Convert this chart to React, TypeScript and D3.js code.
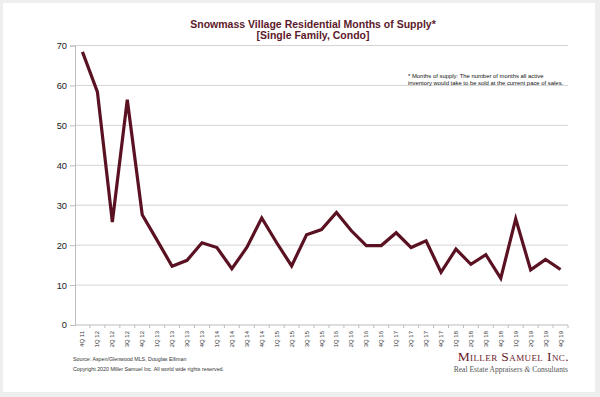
import React, { useRef, useEffect } from 'react';
import * as d3 from 'd3';

const quarters = [
  '4Q 11', '1Q 12', '2Q 12', '3Q 12', '4Q 12', '1Q 13', '2Q 13', '3Q 13', '4Q 13',
  '1Q 14', '2Q 14', '3Q 14', '4Q 14', '1Q 15', '2Q 15', '3Q 15', '4Q 15',
  '1Q 16', '2Q 16', '3Q 16', '4Q 16', '1Q 17', '2Q 17', '3Q 17', '4Q 17',
  '1Q 18', '2Q 18', '3Q 18', '4Q 18', '1Q 19', '2Q 19', '3Q 19', '4Q 19',
];

const monthsOfSupply = [
  68.4, 58.4, 25.8, 56.4, 27.6, 21.2, 14.7, 16.2, 20.6,
  19.4, 14.1, 19.4, 26.8, 20.6, 14.8, 22.6, 23.9,
  28.2, 23.6, 19.9, 19.9, 23.1, 19.4, 21.1, 13.2,
  19.0, 15.2, 17.6, 11.7, 26.6, 13.8, 16.4, 13.9,
];

const yTicks = [0, 10, 20, 30, 40, 50, 60, 70];

const titleLines = ['Snowmass Village Residential Months of Supply*', '[Single Family, Condo]'];
const noteLines = [
  '* Months of supply: The number of months all active',
  'inventory would take to be sold at the current pace of sales.',
];
const footerLines = [
  'Source: Aspen/Glenwood MLS, Douglas Elliman',
  'Copyright 2020 Miller Samuel Inc.  All world wide rights reserved.',
];

const width = 600;
const height = 397;
const plot = { left: 75, right: 568, top: 45.5, bottom: 325 };
const maroon = '#5a1222';
const font = 'Liberation Sans, Arial, sans-serif';

const App = () => {
  const svgRef = useRef<SVGSVGElement>(null);

  useEffect(() => {
    document.body.style.margin = '0';
    const svg = d3.select(svgRef.current);
    svg.selectAll('*').remove();

    // frame
    svg.append('rect').attr('width', width).attr('height', height).attr('fill', '#eeeeee');
    svg.append('rect')
      .attr('x', 3).attr('y', 3)
      .attr('width', 592).attr('height', 389)
      .attr('fill', '#ffffff');

    const x = d3.scaleBand<string>()
      .domain(quarters)
      .range([plot.left, plot.right])
      .padding(0);

    const y = d3.scaleLinear()
      .domain([0, 70])
      .range([plot.bottom, plot.top]);

    // gridlines
    svg.append('g')
      .selectAll('line')
      .data(yTicks.filter(d => d > 0))
      .enter()
      .append('line')
      .attr('x1', plot.left)
      .attr('x2', plot.right)
      .attr('y1', d => y(d))
      .attr('y2', d => y(d))
      .attr('stroke', '#d4d4d4')
      .attr('stroke-width', 1);

    // y axis
    const yAxis = svg.append('g')
      .attr('transform', `translate(${plot.left},0)`)
      .call(d3.axisLeft(y).tickValues(yTicks).tickSize(5).tickPadding(3));
    yAxis.select('.domain').attr('stroke', '#bdbdbd');
    yAxis.selectAll('.tick line').attr('stroke', '#bdbdbd');
    yAxis.selectAll('.tick text')
      .attr('font-family', font)
      .attr('font-size', 9.3)
      .attr('fill', '#222');

    // x axis
    const xAxis = svg.append('g').attr('transform', `translate(0,${plot.bottom})`);
    xAxis.append('line')
      .attr('x1', plot.left).attr('x2', plot.right)
      .attr('stroke', '#bdbdbd');
    xAxis.selectAll('line.tick')
      .data(quarters)
      .enter()
      .append('line')
      .attr('class', 'tick')
      .attr('x1', d => (x(d) as number) + x.bandwidth())
      .attr('x2', d => (x(d) as number) + x.bandwidth())
      .attr('y1', 0)
      .attr('y2', 3)
      .attr('stroke', '#bdbdbd');
    xAxis.selectAll('text')
      .data(quarters)
      .enter()
      .append('text')
      .attr('transform', d => `translate(${(x(d) as number) + x.bandwidth() / 2 + 2},6) rotate(-90)`)
      .attr('text-anchor', 'end')
      .attr('font-family', font)
      .attr('font-size', 6)
      .attr('fill', '#333')
      .text(d => d);

    // line
    const line = d3.line<number>()
      .x((_, i) => (x(quarters[i]) as number) + x.bandwidth() / 2)
      .y(d => y(d));

    svg.append('path')
      .datum(monthsOfSupply)
      .attr('d', line)
      .attr('fill', 'none')
      .attr('stroke', maroon)
      .attr('stroke-width', 3.2)
      .attr('stroke-linejoin', 'miter');

    // title
    svg.append('g')
      .selectAll('text')
      .data(titleLines)
      .enter()
      .append('text')
      .attr('x', 313)
      .attr('y', (_, i) => 28 + i * 10.5)
      .attr('text-anchor', 'middle')
      .attr('font-family', font)
      .attr('font-weight', 'bold')
      .attr('font-size', 10.5)
      .attr('fill', '#5c1a2a')
      .text(d => d);

    // note
    svg.append('g')
      .selectAll('text')
      .data(noteLines)
      .enter()
      .append('text')
      .attr('x', 408)
      .attr('y', (_, i) => 77.5 + i * 7)
      .attr('font-family', font)
      .attr('font-size', 5.9)
      .attr('fill', '#111')
      .text(d => d);

    // footer
    svg.append('g')
      .selectAll('text')
      .data(footerLines)
      .enter()
      .append('text')
      .attr('x', 73)
      .attr('y', (_, i) => 361 + i * 10)
      .attr('font-family', font)
      .attr('font-size', 5.3)
      .attr('fill', '#333')
      .text(d => d);

    // logo
    svg.append('text')
      .attr('x', 569)
      .attr('y', 361)
      .attr('text-anchor', 'end')
      .attr('font-family', 'Liberation Serif, Times New Roman, serif')
      .attr('font-size', 13.5)
      .attr('font-variant', 'small-caps')
      .attr('letter-spacing', 0.4)
      .attr('fill', '#6a1b2c')
      .text('Miller Samuel Inc.');

    const tag = svg.append('text')
      .attr('x', 568)
      .attr('y', 372)
      .attr('text-anchor', 'end')
      .attr('font-family', 'Liberation Serif, Times New Roman, serif')
      .attr('font-size', 7.6)
      .attr('fill', '#555');
    tag.append('tspan').text('Real Estate Appraisers ');
    tag.append('tspan').attr('font-style', 'italic').text('&');
    tag.append('tspan').text(' Consultants');
  }, []);

  return (
    <svg ref={svgRef} width={width} height={height} style={{ display: 'block' }}></svg>
  );
};

export default App;
